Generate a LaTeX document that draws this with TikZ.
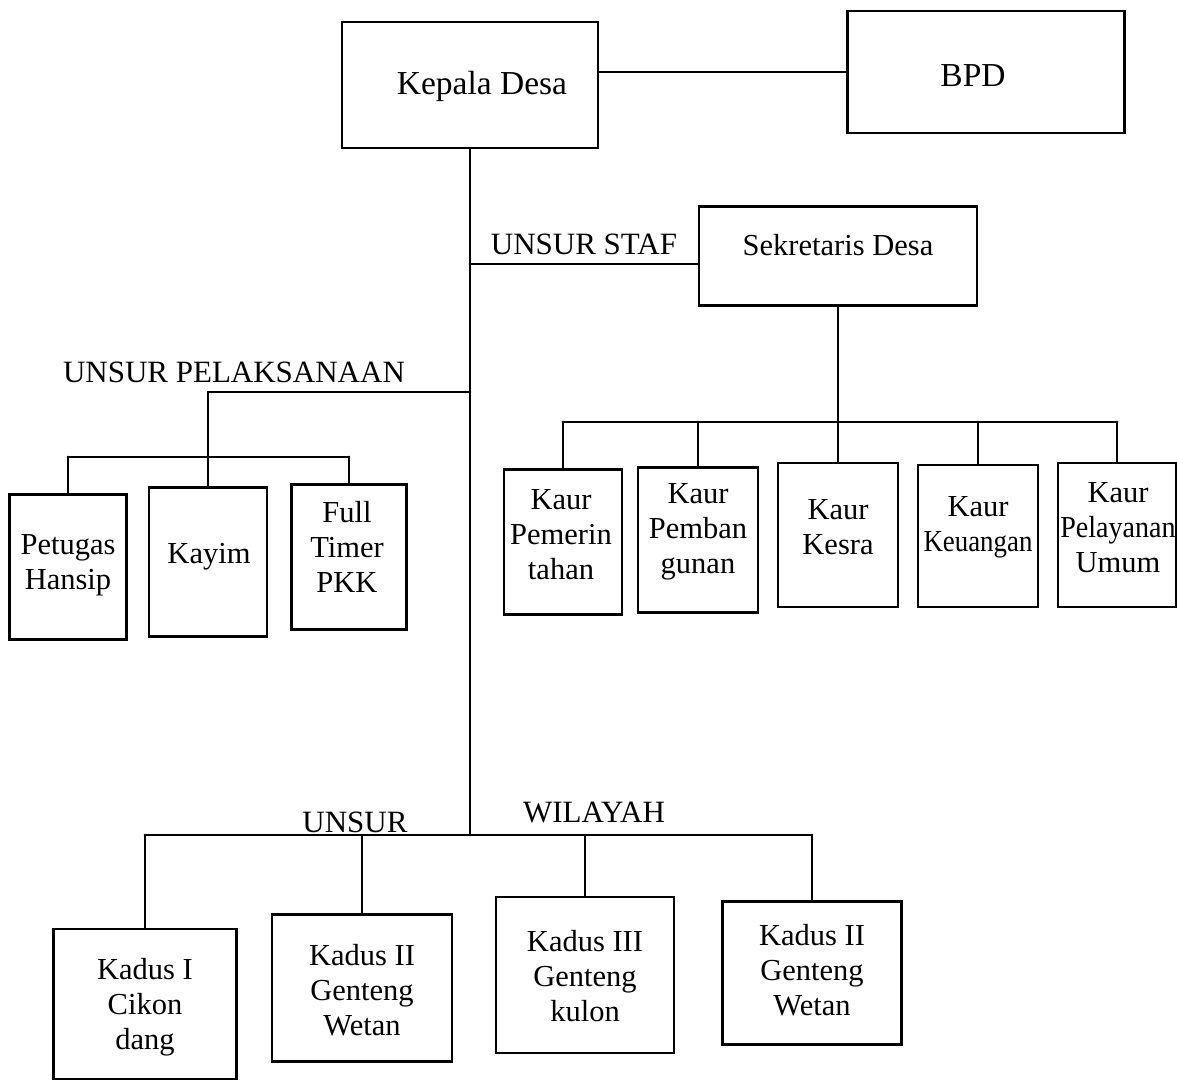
\documentclass[tikz,border=0pt]{standalone}
\usepackage{fontspec}
\setmainfont{Liberation Serif}
\begin{document}
\begin{tikzpicture}[x=1pt,y=-1pt,
  box/.style={draw=black,line width=2.8pt,inner sep=0pt,minimum width=#1},
  txt/.style={align=center,inner sep=0pt,font=\fontsize{30.5}{35}\selectfont},
  big/.style={align=center,inner sep=0pt,font=\fontsize{33.5}{38}\selectfont},
  lab/.style={inner sep=0pt,anchor=base,font=\fontsize{31}{36}\selectfont},
  ln/.style={line width=2.8pt,line cap=round,line join=miter}]
\useasboundingbox (0,0) rectangle (1177,1080);
% top level
\node[box=256pt,minimum height=126pt] (kd) at (470,85) {};
\node[big] (tkd) at (482,86) {Kepala Desa};
\node[box=277pt,minimum height=122pt] (bpd) at (986,72) {};
\node[big] (tbpd) at (973,76) {BPD};
\node[box=278pt,minimum height=99pt] (sek) at (838,256) {};
\node[txt] (tsek) at (838,245) {Sekretaris Desa};
% kaur boxes
\node[box=118pt,minimum height=145pt] (k1) at (563,542) {};
\node[txt] (tk1) at (561,535) {Kaur\\Pemerin\\tahan};
\node[box=120pt,minimum height=145pt] (k2) at (698,540) {};
\node[txt] (tk2) at (698,532) {Kaur\\Pemban\\gunan};
\node[box=120pt,minimum height=144pt] (k3) at (838,535) {};
\node[txt] (tk3) at (838,527) {Kaur\\Kesra};
\node[box=120pt,minimum height=142pt] (k4) at (978,536) {};
\node[txt] (tk4) at (978,527) {Kaur\\\scalebox{0.88}[1]{Keuangan}};
\node[box=118pt,minimum height=144pt] (k5) at (1117,535) {};
\node[txt] (tk5) at (1118,528) {Kaur\\\scalebox{0.92}[1]{Pelayanan}\\Umum};
% pelaksanaan boxes
\node[box=117pt,minimum height=145pt] (p1) at (68,567) {};
\node[txt] (tp1) at (68,565) {Petugas\\Hansip};
\node[box=118pt,minimum height=149pt] (p2) at (208,562) {};
\node[txt] (tp2) at (209,557) {Kayim};
\node[box=115pt,minimum height=145pt] (p3) at (349,557) {};
\node[txt] (tp3) at (347,547) {Full\\Timer\\PKK};
% wilayah boxes
\node[box=183pt,minimum height=150pt] (w1) at (145,1004) {};
\node[txt] (tw1) at (145,1007) {Kadus I\\Cikon\\dang};
\node[box=180pt,minimum height=147pt] (w2) at (362,988) {};
\node[txt] (tw2) at (362,990) {Kadus II\\Genteng\\Wetan};
\node[box=178pt,minimum height=156pt] (w3) at (585,975) {};
\node[txt] (tw3) at (585,976) {Kadus III\\Genteng\\kulon};
\node[box=179pt,minimum height=143pt] (w4) at (812,973) {};
\node[txt] (tw4) at (812,970) {Kadus II\\Genteng\\Wetan};
% junction coordinates
\coordinate (staf) at (470,264);
\coordinate (pel) at (470,392);
\coordinate (pbar) at (0,457);
\coordinate (kbar) at (0,422);
\coordinate (wil) at (470,835);
% connectors
\draw[ln] (kd.east |- bpd.west) -- (bpd.west);
\draw[ln] (kd.south) -- (wil);
\draw[ln] (staf) -- (staf -| sek.west);
\draw[ln] (sek.south) -- (k3.north);
\draw[ln] (k1.north |- kbar) -- (k5.north |- kbar);
\foreach \k in {k1,k2,k4,k5}{\draw[ln] (\k.north |- kbar) -- (\k.north);}
\draw[ln] (pel) -- (pel -| p2.north) -- (p2.north);
\draw[ln] (p1.north |- pbar) -- (p3.north |- pbar);
\foreach \p in {p1,p3}{\draw[ln] (\p.north |- pbar) -- (\p.north);}
\draw[ln] (w1.north |- wil) -- (w4.north |- wil);
\foreach \w in {w1,w2,w3,w4}{\draw[ln] (\w.north |- wil) -- (\w.north);}
% labels
\node[lab] (lstaf) at (584,254) {UNSUR STAF};
\node[lab] (lpel) at (234,382) {UNSUR PELAKSANAAN};
\node[lab] (lu) at (355,832) {UNSUR};
\node[lab] (lw) at (594,822) {WILAYAH};
\end{tikzpicture}
\end{document}
